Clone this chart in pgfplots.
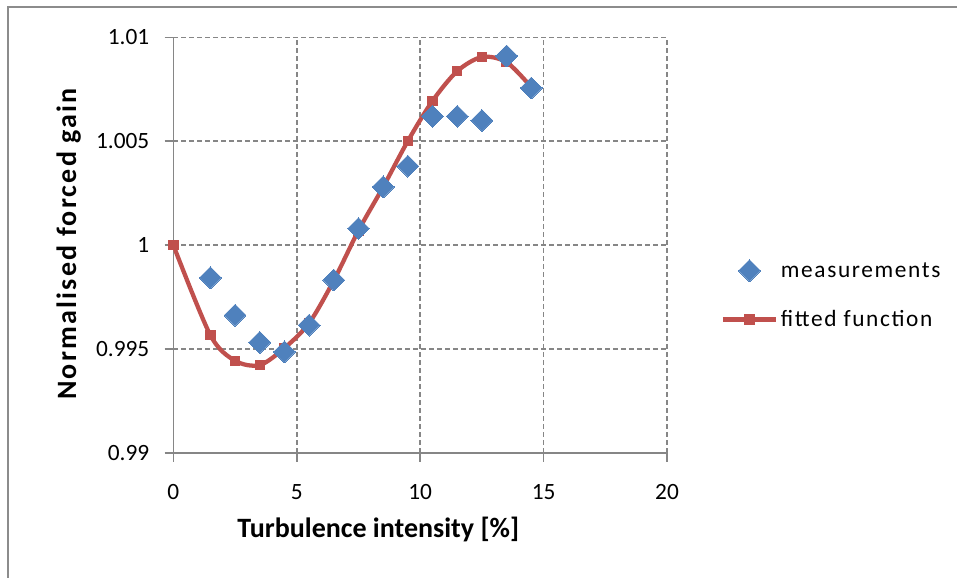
\documentclass[border=0pt]{standalone}
\usepackage{pgfplots}
\pgfplotsset{compat=1.18}
\usepackage{fontspec}
\setmainfont{Carlito}
\newfontfamily\spacedfont[LetterSpace=8]{Carlito}
\newfontfamily\legfont[LetterSpace=7]{Carlito}
\definecolor{exred}{HTML}{C0504D}
\definecolor{exblue}{HTML}{4F81BD}
\definecolor{exgrid}{HTML}{868686}
\definecolor{exframe}{HTML}{8C8C8C}
\begin{document}
\begin{tikzpicture}
\useasboundingbox (0,0) rectangle (717.75pt,433.5pt);
\fill[white] (0,0) rectangle (717.75pt,433.5pt);
\draw[exframe, line width=1.6pt] (6.2pt,0) -- (6.2pt,428pt) -- (717.75pt,428pt);
\begin{axis}[
  at={(130pt,93.75pt)}, anchor=south west,
  scale only axis, width=370.3pt, height=311.8pt,
  xmin=0, xmax=20, ymin=0.99, ymax=1.01,
  axis x line=bottom, axis y line=left,
  axis line style={exgrid, line width=1.1pt, -},
  xtick={0,5,10,15,20},
  ytick={0.99,0.995,1,1.005,1.01},
  yticklabels={0.99,0.995,1,1.005,1.01},
  /pgf/number format/assume math mode=true,
  tick align=outside, major tick length=6.5pt,
  tick style={exgrid, line width=1.1pt},
  grid=major,
  major grid style={exgrid, line width=1.1pt, dash pattern=on 3.75pt off 2.25pt},
  tick label style={font=\fontsize{17.5}{21}\selectfont},
  yticklabel style={xshift=-8pt},
  xticklabel style={yshift=-13.5pt},
  xlabel={Turbulence intensity [\%]},
  ylabel={Normalised forced gain},
  xlabel style={font=\fontsize{21}{25}\selectfont\bfseries, at={(axis description cs:0.415,-0.185)}, anchor=center},
  ylabel style={font=\spacedfont\fontsize{21}{25}\selectfont\bfseries, at={(axis description cs:-0.212,0.503)}, anchor=center},
  legend style={at={(axis description cs:1.1,0.379)}, anchor=west, draw=none, fill=none,
    font=\legfont\fontsize{17.5}{21}\selectfont, row sep=19.5pt, cells={anchor=west}},
  legend image code/.code={\draw[mark repeat=2,mark phase=2,#1] plot coordinates {(0pt,0pt) (20pt,0pt) (40pt,0pt)};},
  reverse legend,
]
\addplot[exred, line width=3.2pt, smooth, mark=square*, mark size=3.5pt, mark options={solid, fill=exred, line width=0pt}]
coordinates {
(0,1.0000) (1.5,0.99567) (2.5,0.99444) (3.5,0.99423) (4.5,0.99505) (5.5,0.99625)
(6.5,0.99830) (7.5,1.00070) (8.5,1.00280) (9.5,1.00501) (10.5,1.00694) (11.5,1.00837)
(12.5,1.00905) (13.5,1.00880) (14.5,1.00760)
};
\addlegendentry{fitted function}
\addplot[only marks, mark=square*, mark size=5.8pt, mark options={rotate=45, fill=exblue, draw=exblue, line width=0pt}]
coordinates {
(1.5,0.99843) (2.5,0.99663) (3.5,0.99532) (4.5,0.99487) (5.5,0.99615) (6.5,0.99832)
(7.5,1.0008) (8.5,1.0028) (9.5,1.0038) (10.5,1.0062) (11.5,1.0062) (12.5,1.0060)
(13.5,1.0091) (14.5,1.00756)
};
\addlegendentry{measurements}
\end{axis}
\end{tikzpicture}
\end{document}
